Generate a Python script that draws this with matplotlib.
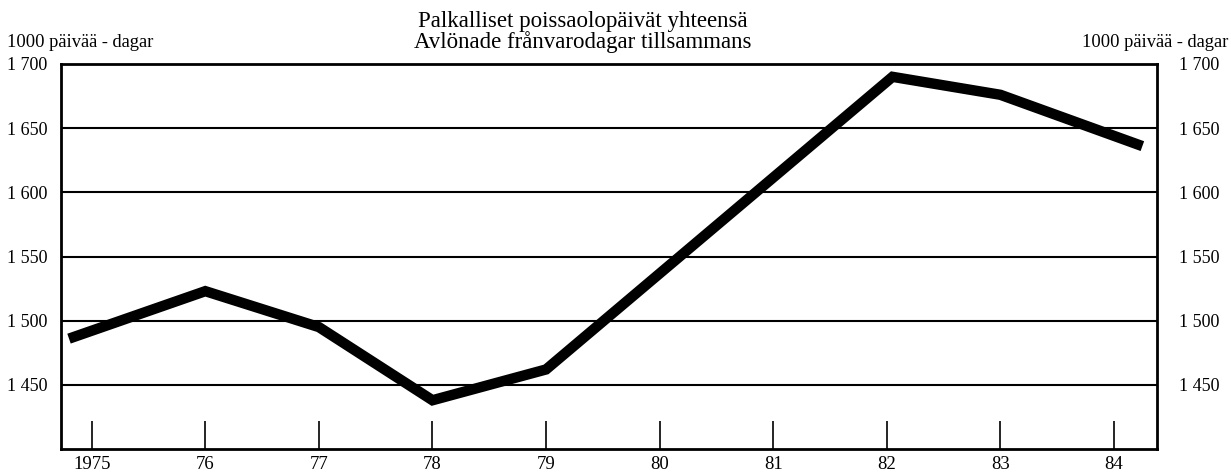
import matplotlib
matplotlib.use("Agg")
import matplotlib.pyplot as plt
from matplotlib.ticker import FixedLocator, FixedFormatter

plt.rcParams['font.family'] = ['Liberation Serif', 'DejaVu Serif']

# Data
x_pos = [1974.8, 1976.0, 1977.0, 1978.0, 1979.0, 1982.05, 1983.0, 1984.25]
values = [1486, 1523, 1495, 1438, 1462, 1690, 1676, 1636]

year_ticks = [1975, 1976, 1977, 1978, 1979, 1980, 1981, 1982, 1983, 1984]
year_labels = ["1975", "76", "77", "78", "79", "80", "81", "82", "83", "84"]
y_ticks = [1450, 1500, 1550, 1600, 1650, 1700]
y_labels = ["1 450", "1 500", "1 550", "1 600", "1 650", "1 700"]

title_fi = "Palkalliset poissaolopäivät yhteensä"
title_sv = "Avlönade frånvarodagar tillsammans"
unit_label = "1000 päivää - dagar"

fig = plt.figure(figsize=(12.31, 4.74), dpi=100)
ax = fig.add_axes([0.0496, 0.0527, 0.8904, 0.8123])

ax.set_xlim(1974.73, 1984.38)
ax.set_ylim(1400, 1700)

for y in y_ticks[:-1]:
    ax.axhline(y, color='black', lw=1.5, zorder=1)

ax.plot(x_pos, values, color='black', lw=7.5, solid_joinstyle='miter',
        solid_capstyle='butt', zorder=3)

for s in ax.spines.values():
    s.set_linewidth(2.0)

ax.xaxis.set_major_locator(FixedLocator(year_ticks))
ax.xaxis.set_major_formatter(FixedFormatter(year_labels))
ax.tick_params(axis='x', direction='in', length=20, width=1.2, labelsize=13.5, pad=5)

ax.yaxis.set_major_locator(FixedLocator(y_ticks))
ax.yaxis.set_major_formatter(FixedFormatter(y_labels))
ax.tick_params(axis='y', length=0, labelsize=13, left=True, right=True,
               labelleft=True, labelright=True)
ax.tick_params(axis='y', which='major', pad=10)
for lab in ax.yaxis.get_ticklabels(minor=False):
    pass
# right labels further from axis
for t in ax.yaxis.get_major_ticks():
    t.set_pad(10)
ax.yaxis.set_tick_params(which='major', pad=10)
for t in ax.yaxis.get_major_ticks():
    t.label2.set_x(1.0)
from matplotlib.transforms import ScaledTranslation
off = ScaledTranslation(6 / 72, 0, fig.dpi_scale_trans)
for lab in ax.yaxis.get_ticklabels(which='major'):
    pass
for t in ax.yaxis.get_major_ticks():
    t.label2.set_transform(t.label2.get_transform() + off)

fig.text(0.4736, 0.943, title_fi, ha='center', va='baseline', fontsize=16.5)
fig.text(0.4736, 0.899, title_sv, ha='center', va='baseline', fontsize=16.5)
fig.text(0.006, 0.901, unit_label, ha='left', va='baseline', fontsize=13.3)
fig.text(0.998, 0.901, unit_label, ha='right', va='baseline', fontsize=13.3)

fig.savefig("out.png", dpi=100)
